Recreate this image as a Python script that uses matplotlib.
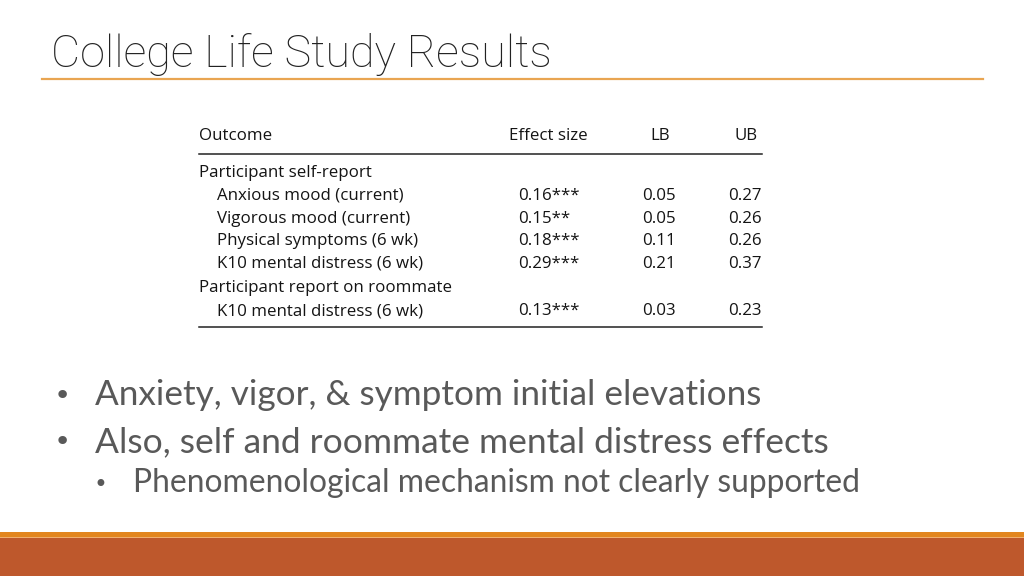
import matplotlib
matplotlib.use("Agg")
import matplotlib.pyplot as plt
from matplotlib.lines import Line2D
from matplotlib.patches import Rectangle

W, H = 1024, 576

title = "College Life Study Results"
col_headers = ["Outcome", "Effect size", "LB", "UB"]
groups = ["Participant self-report", "Participant self-report", "Participant self-report",
          "Participant self-report", "Participant report on roommate"]
outcomes = ["Anxious mood (current)", "Vigorous mood (current)", "Physical symptoms (6 wk)",
            "K10 mental distress (6 wk)", "K10 mental distress (6 wk)"]
effect = [0.16, 0.15, 0.18, 0.29, 0.13]
stars = ["***", "**", "***", "***", "***"]
lb = [0.05, 0.05, 0.11, 0.21, 0.03]
ub = [0.27, 0.26, 0.26, 0.37, 0.23]
bullets = ["Anxiety, vigor, & symptom initial elevations",
           "Also, self and roommate mental distress effects"]
sub_bullets = ["Phenomenological mechanism not clearly supported"]

fig = plt.figure(figsize=(W / 100, H / 100), dpi=100)
fig.patch.set_facecolor("white")
ax = fig.add_axes([0, 0, 1, 1])
ax.set_xlim(0, W)
ax.set_ylim(H, 0)
ax.axis("off")

renderer = fig.canvas.get_renderer()


def put(x, y, s, size, color, family, weight="normal", ha="left", va="baseline",
        target_w=None):
    t = ax.text(x, y, s, fontsize=size, color=color, family=family, weight=weight,
                ha=ha, va=va)
    if target_w is not None:
        bb = t.get_window_extent(renderer=renderer)
        t.set_fontsize(size * target_w / bb.width)
    return t


# Title
put(51, 67, title, 32, "#222222", ["Roboto", "DejaVu Sans"], weight="light", target_w=502)
ax.add_line(Line2D([42, 983], [78.5, 78.5], color="#E9A552", lw=1.6))

# Table
tf = ["Open Sans", "DejaVu Sans"]
tc = "#141414"
ts = 12.2
hy = 140
put(199, hy, col_headers[0], ts, tc, tf)
put(509, hy, col_headers[1], ts, tc, tf)
put(650, hy, col_headers[2], ts, tc, tf)
put(734, hy, col_headers[3], ts, tc, tf)
ax.add_line(Line2D([199, 762], [154, 154], color="#222222", lw=1.1))

row_y = [200, 223, 245, 268, 315]
group_y = {"Participant self-report": 177, "Participant report on roommate": 292}
seen = set()
for i, out in enumerate(outcomes):
    g = groups[i]
    if g not in seen:
        seen.add(g)
        put(199, group_y[g], g, ts, tc, tf)
    y = row_y[i]
    put(217, y, out, ts, tc, tf)
    put(518, y, f"{effect[i]:.2f}{stars[i]}", ts, tc, tf)
    put(642, y, f"{lb[i]:.2f}", ts, tc, tf)
    put(728, y, f"{ub[i]:.2f}", ts, tc, tf)
ax.add_line(Line2D([199, 762], [327, 327], color="#222222", lw=1.1))

# Bullets
bc = "#595959"
bf = ["Lato", "DejaVu Sans"]
by = [405, 452]
bw = [665, 735]
dot_y = [392, 438]
for i, b in enumerate(bullets):
    put(62, dot_y[i] + 3.5, "•", 21, bc, ["DejaVu Sans"], ha="center", va="center")
    put(95, by[i], b, 24, bc, bf, target_w=bw[i])
put(100, 482 + 2.8, "•", 17, bc, ["DejaVu Sans"], ha="center", va="center")
put(133, 492, sub_bullets[0], 20, bc, bf, target_w=727)

# Bottom bars
ax.add_patch(Rectangle((0, 532), W, 5, facecolor="#E2861F", edgecolor="none"))
ax.add_patch(Rectangle((0, 537), W, 1, facecolor="#F0B070", edgecolor="none"))
ax.add_patch(Rectangle((0, 538), W, 38, facecolor="#BE582C", edgecolor="none"))

fig.savefig("out.png", dpi=100, facecolor="white")
